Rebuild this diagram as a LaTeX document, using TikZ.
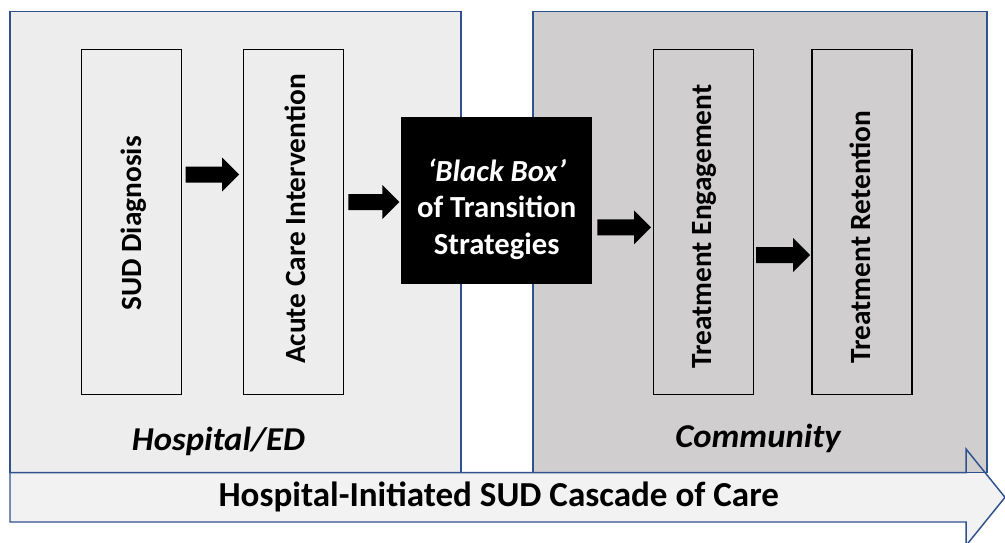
\documentclass[tikz,border=0pt]{standalone}
\usepackage{fontspec}
\setmainfont{Carlito}
\usetikzlibrary{calc}
\definecolor{pborder}{RGB}{47,82,143}
\definecolor{leftfill}{RGB}{237,237,237}
\definecolor{rightfill}{RGB}{208,206,206}
\definecolor{arrowfill}{RGB}{242,242,242}
\tikzset{
  panel/.style={draw=pborder, line width=1.1pt, inner sep=0pt, outer sep=0pt,
    minimum width=#1, minimum height=345.75pt},
  stepbox/.style={draw=black, line width=1.1pt, inner sep=0pt, outer sep=0pt,
    minimum width=75pt, minimum height=258.75pt},
  vtext/.style={rotate=90, anchor=base, inner sep=0pt, font=\fontsize{22}{26}\selectfont\bfseries},
  ptext/.style={anchor=base west, inner sep=0pt, font=\fontsize{25}{30}\selectfont\bfseries\itshape\addfontfeature{FakeStretch=1.04}},
  blockarr/.style={to path={
    let \p1=(\tikztostart), \p2=(\tikztotarget) in
    (\x1,\y1+6pt) -- (\x2-12.75pt,\y1+6pt) -- (\x2-12.75pt,\y1+12.75pt) -- (\x2,\y1)
    -- (\x2-12.75pt,\y1-12.75pt) -- (\x2-12.75pt,\y1-6pt) -- (\x1,\y1-6pt) -- cycle}},
}
\begin{document}
\begin{tikzpicture}[x=0.75pt, y=-0.75pt]
\useasboundingbox (0,0) rectangle (1005,542);
\clip (0,0) rectangle (1005,542);
% big arrow fill (behind panels)
\path[fill=arrowfill] (10,472.7) -- (966,472.7) -- (966,449) -- (1005,497.3)
  -- (966,545.6) -- (966,522) -- (10,522) -- cycle;
% panels
\node[panel=338.25pt, fill=leftfill] (hosp) at (235.5,242) {};
\node[panel=340.5pt, fill=rightfill] (comm) at (760,242) {};
% big arrow outline
\draw[pborder, line width=1.1pt, line join=miter] (10,472.7) -- (966,472.7) -- (966,449) -- (1005,497.3)
  -- (966,545.6) -- (966,522) -- (10,522) -- cycle;
% step boxes
\node[stepbox, fill=leftfill] (b1) at (131.5,222) {};
\node[stepbox, fill=leftfill] (b2) at (293.6,222) {};
\node[stepbox, fill=rightfill] (b3) at (703.3,222) {};
\node[stepbox, fill=rightfill] (b4) at (862.2,222) {};
\node[draw=black, fill=black, inner sep=0pt, outer sep=0pt, minimum width=142.5pt, minimum height=124.5pt] (bb) at (496.7,200) {};
% texts
\node[vtext] (t1) at (141.7,223.5) {SUD Diagnosis};
\node[vtext] (t2) at (305,219) {Acute Care Intervention};
\node[vtext] (t3) at (711.7,226.5) {Treatment Engagement};
\node[vtext] (t4) at (870,237) {Treatment Retention};
\node[align=center, text=white, inner sep=0pt, font=\fontsize{23}{27.5}\selectfont\bfseries] (bbt) at (496.7,209)
  {\textit{‘Black Box’}\\of Transition\\Strategies};
\node[ptext] (lh) at (131.7,450) {Hospital/ED};
\node[ptext] (lc) at (675,447.3) {Community};
\node[anchor=base west, inner sep=0pt, font=\fontsize{26.3}{31}\selectfont\bfseries] (cascade) at (218.3,506.7)
  {Hospital-Initiated SUD Cascade of Care};
% block arrows
\fill[black] ($(b1.east |- 0,174.5)+(4.2,0)$) to[blockarr] ($(b2.west |- 0,174.5)+(-4.6,0)$);
\fill[black] ($(b2.east |- 0,202)+(4.7,0)$) to[blockarr] ($(bb.west |- 0,202)+(-2.4,0)$);
\fill[black] ($(bb.east |- 0,227.3)+(5.6,0)$) to[blockarr] ($(b3.west |- 0,227.3)+(-2.3,0)$);
\fill[black] ($(b3.east |- 0,255)+(2.7,0)$) to[blockarr] ($(b4.west |- 0,255)+(-2.2,0)$);
\end{tikzpicture}
\end{document}
